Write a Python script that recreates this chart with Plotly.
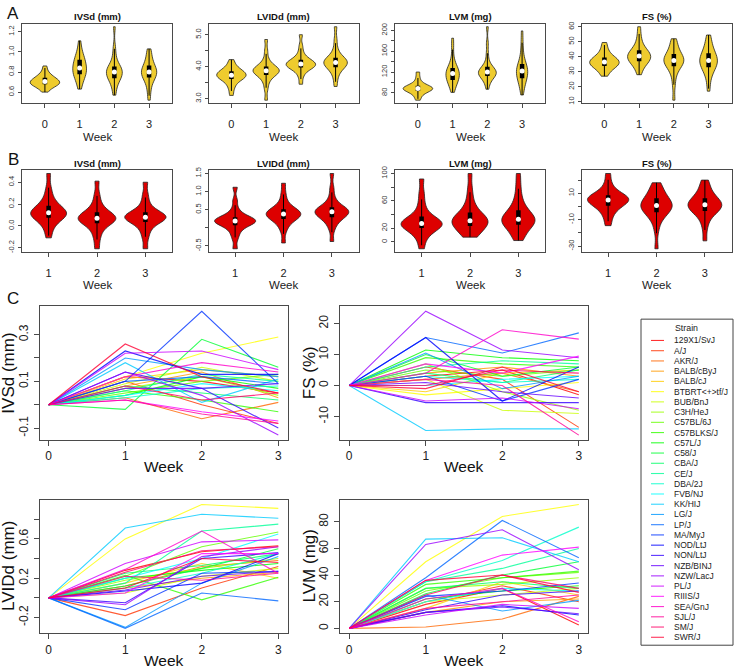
import colorsys
import numpy as np
import plotly.graph_objects as go

# ---------------- DATA ----------------
WEEKS_A = [0, 1, 2, 3]
WEEKS_B = [1, 2, 3]
WEEKS_C = [0, 1, 2, 3]
METRIC_TITLES = ["IVSd (mm)", "LVIDd (mm)", "LVM (mg)", "FS (%)"]

# Panel A: absolute values per week (0..3)
A_IVSD = [
    [0.60, 0.63, 0.65, 0.66, 0.67, 0.68, 0.68, 0.69, 0.69, 0.70, 0.71, 0.71, 0.72, 0.73, 0.74, 0.75, 0.76, 0.78, 0.81, 0.86],
    [0.63, 0.68, 0.72, 0.75, 0.77, 0.78, 0.79, 0.80, 0.82, 0.83, 0.85, 0.86, 0.88, 0.90, 0.92, 0.93, 0.95, 0.98, 1.03, 1.11],
    [0.57, 0.63, 0.68, 0.71, 0.73, 0.74, 0.76, 0.77, 0.78, 0.79, 0.81, 0.82, 0.83, 0.84, 0.85, 0.87, 0.91, 0.97, 1.05, 1.25],
    [0.52, 0.60, 0.66, 0.70, 0.73, 0.75, 0.76, 0.77, 0.79, 0.80, 0.80, 0.81, 0.83, 0.85, 0.86, 0.88, 0.91, 0.95, 0.99, 1.03],
]
A_LVIDD = [
    [3.10, 3.30, 3.42, 3.52, 3.58, 3.62, 3.65, 3.68, 3.70, 3.72, 3.74, 3.76, 3.78, 3.82, 3.85, 3.88, 3.92, 3.98, 4.08, 4.22],
    [2.95, 3.30, 3.50, 3.62, 3.70, 3.75, 3.78, 3.82, 3.85, 3.86, 3.88, 3.90, 3.93, 3.96, 3.99, 4.04, 4.12, 4.25, 4.50, 4.85],
    [3.45, 3.68, 3.82, 3.90, 3.95, 3.98, 4.00, 4.03, 4.05, 4.07, 4.09, 4.11, 4.14, 4.17, 4.20, 4.25, 4.32, 4.45, 4.65, 5.00],
    [3.38, 3.62, 3.78, 3.88, 3.95, 3.99, 4.03, 4.07, 4.10, 4.12, 4.14, 4.17, 4.20, 4.23, 4.27, 4.32, 4.42, 4.58, 4.85, 5.25],
]
A_LVM = [
    [66, 72, 77, 80, 82, 84, 85, 86, 87, 88, 89, 90, 91, 92, 93, 95, 98, 102, 110, 120],
    [81, 90, 96, 100, 103, 105, 108, 111, 114, 116, 118, 120, 122, 125, 127, 131, 137, 148, 168, 185],
    [87, 98, 104, 108, 111, 113, 115, 117, 118, 119, 121, 122, 124, 126, 129, 133, 140, 155, 175, 207],
    [76, 88, 95, 101, 105, 109, 112, 115, 118, 121, 123, 125, 128, 131, 134, 139, 147, 160, 177, 199],
]
A_FS = [
    [27, 29.5, 31, 32.5, 33.5, 34, 34.5, 35, 35.8, 36.3, 36.8, 37.3, 38, 38.6, 39.2, 40.2, 41.5, 43.5, 46, 49.5],
    [28, 31.5, 34, 35.5, 36.5, 37.2, 38, 38.8, 39.5, 40.2, 40.8, 41.5, 42.3, 43, 44, 45.2, 47, 50, 54, 60],
    [11, 21, 27, 30.5, 32.5, 34, 35, 36, 36.8, 37.3, 37.8, 38.5, 39.3, 40.3, 41.5, 42.8, 44.5, 47, 49.5, 52],
    [17, 23.5, 28, 30.5, 32, 33.2, 34.3, 35.5, 36.5, 37.2, 37.8, 38.6, 39.6, 40.8, 42, 43.5, 45.5, 48, 51, 54.5],
]

# Panel B: change from week 0 (weeks 1..3)
B_IVSD = [
    [-0.11, -0.04, 0.01, 0.04, 0.06, 0.08, 0.09, 0.10, 0.11, 0.12, 0.12, 0.13, 0.14, 0.16, 0.18, 0.20, 0.23, 0.28, 0.35, 0.48],
    [-0.21, -0.12, -0.06, -0.02, 0.01, 0.03, 0.04, 0.05, 0.06, 0.07, 0.07, 0.08, 0.09, 0.11, 0.12, 0.14, 0.17, 0.22, 0.29, 0.41],
    [-0.21, -0.11, -0.05, -0.01, 0.02, 0.04, 0.05, 0.06, 0.07, 0.08, 0.08, 0.09, 0.10, 0.11, 0.12, 0.14, 0.17, 0.22, 0.29, 0.40],
]
B_LVIDD = [
    [-0.58, -0.30, -0.15, -0.05, 0.03, 0.08, 0.11, 0.14, 0.16, 0.18, 0.19, 0.21, 0.23, 0.26, 0.28, 0.32, 0.40, 0.52, 0.75, 1.12],
    [-0.42, -0.10, 0.05, 0.15, 0.21, 0.25, 0.29, 0.32, 0.35, 0.37, 0.39, 0.41, 0.44, 0.47, 0.50, 0.55, 0.62, 0.75, 0.95, 1.23],
    [-0.38, -0.05, 0.10, 0.20, 0.26, 0.30, 0.34, 0.38, 0.41, 0.43, 0.45, 0.47, 0.50, 0.53, 0.55, 0.61, 0.70, 0.85, 1.10, 1.50],
]
B_LVM = [
    [-10, 3, 10, 15, 18, 21, 23, 24, 25, 26, 28, 29, 31, 33, 36, 40, 47, 58, 72, 92],
    [7, 10, 14, 18, 21, 24, 26, 28, 29, 30, 32, 34, 36, 39, 42, 46, 53, 63, 78, 100],
    [2, 8, 14, 19, 23, 26, 28, 30, 31, 32, 34, 36, 39, 42, 45, 50, 57, 67, 82, 100],
]
B_FS = [
    [-14.5, -9, -5, -2.5, -0.5, 1, 2, 3, 4, 4.6, 5.3, 6, 6.7, 7.4, 8.2, 9.3, 11, 13.5, 18, 25],
    [-32, -18, -11, -7.5, -5.5, -4, -2.8, -1.5, -0.5, 0.3, 1.2, 2, 3, 4.2, 5.8, 7.5, 9.5, 12, 15, 18],
    [-26, -16, -10, -6.5, -4.5, -3, -2, -1, 0, 0.8, 1.7, 2.5, 3.4, 4.5, 5.8, 7.5, 9.5, 12.5, 16, 20],
]

# Panel C: strain mean change from week 0 (values at weeks 1, 2, 3)
STRAINS = ["129X1/SvJ", "A/J", "AKR/J", "BALB/cByJ", "BALB/cJ", "BTBRT<+>tf/J", "BUB/BnJ",
           "C3H/HeJ", "C57BL/6J", "C57BLKS/J", "C57L/J", "C58/J", "CBA/J", "CE/J", "DBA/2J",
           "FVB/NJ", "KK/HIJ", "LG/J", "LP/J", "MA/MyJ", "NOD/LtJ", "NON/LtJ", "NZB/BINJ",
           "NZW/LacJ", "PL/J", "RIIIS/J", "SEA/GnJ", "SJL/J", "SM/J", "SWR/J"]
C_IVSD = [
    [0.12, 0.10, 0.05], [0.10, 0.00, -0.08], [0.03, -0.06, 0.01], [0.08, 0.14, 0.03],
    [0.11, 0.15, 0.12], [0.12, 0.22, 0.29], [0.09, 0.16, 0.10], [0.07, 0.12, 0.04],
    [0.05, 0.10, 0.13], [0.06, 0.02, -0.03], [0.04, 0.12, 0.07], [-0.02, 0.28, 0.16],
    [0.08, 0.05, 0.02], [0.06, 0.13, 0.10], [0.03, 0.07, 0.08], [0.04, 0.09, 0.06],
    [0.18, 0.01, 0.11], [0.20, 0.15, 0.12], [0.10, 0.12, 0.09], [0.10, 0.40, 0.09],
    [0.23, 0.13, 0.13], [0.14, 0.07, -0.10], [0.07, 0.07, 0.09], [0.14, 0.04, -0.13],
    [0.22, 0.23, 0.15], [0.02, -0.03, -0.07], [0.12, 0.18, 0.14], [0.02, -0.04, -0.08],
    [0.08, 0.02, 0.05], [0.26, 0.12, 0.05],
]
C_FS = [
    [3, 5, -3], [6, 2, -13.5], [2, 4, -2], [4, 6, 3], [-2, 4, 5], [-3, -1, 1],
    [2, -8, -9], [7, -2, -8], [5, 3, 5], [9, 7, 6], [11.5, 9, 8], [10, 3, 6],
    [4, 1, 5], [6, 8, 7], [3, 1, 2], [0, 2, 3], [-14.5, -14, -14], [10.5, -1, 3],
    [15.5, 10.5, 17], [3, -5, 2], [15.5, -5, 6], [-5.5, -5.5, -5.5], [1, -2, -4],
    [24, 11.5, 9], [-5, -4, -7.5], [7, 4, 9.5], [4, 18, 15], [2, 0, -16], [0, 5, 4],
    [-1, 6, -2],
]
C_LVIDD = [
    [0.28, 0.47, 0.53], [-0.18, 0.10, 0.32], [0.12, 0.32, 0.38], [0.10, 0.20, 0.26],
    [0.15, 0.35, 0.20], [0.60, 0.95, 0.91], [0.05, 0.22, 0.30], [0.18, 0.30, 0.40],
    [0.22, 0.52, 0.67], [0.23, -0.02, 0.21], [0.20, 0.28, 0.35], [0.12, 0.30, 0.50],
    [0.25, 0.33, 0.45], [0.15, 0.68, 0.75], [0.10, 0.25, 0.45], [0.20, 0.40, 0.65],
    [0.71, 0.85, 0.81], [-0.30, 0.15, 0.42], [-0.31, 0.05, -0.03], [-0.12, 0.25, 0.27],
    [0.07, 0.15, 0.45], [-0.05, 0.40, 0.46], [0.08, 0.22, 0.27], [-0.07, 0.42, 0.52],
    [0.35, 0.57, 0.59], [0.05, 0.45, 0.45], [0.29, 0.68, 0.25], [0.22, 0.18, 0.25],
    [0.26, 0.48, 0.52], [0.10, 0.40, 0.36],
]
C_LVM = [
    [18, 30, 2.5], [20, 32, 20], [1, 7, 24], [12, 20, 22], [15, 35, 25], [50, 84, 93],
    [20, 25, 30], [30, 33, 38], [28, 38, 42], [33, 38, 43], [22, 28, 32], [26, 40, 50],
    [30, 35, 30], [35, 45, 60], [35, 51, 76], [20, 30, 28], [67, 68, 50], [25, 13, 21],
    [38, 81, 53], [24, 28, 34], [12, 17, 10], [14, 25, 28], [12, 16, 11], [63, 74, 44],
    [10, 18, 15], [36, 55, 61], [22, 30, 5], [15, 20, 25], [25, 40, 30], [36, 40, 27],
]

# ---------------- STYLE / LAYOUT ----------------
W, H = 737, 670
FONT = "Liberation Sans, Arial, Helvetica, sans-serif"
GOLD = "#EECB2E"
RED = "#DD0000"
BOXC = "#4a4a4a"


def rainbow(n, alpha):
    cols = []
    for i in range(n):
        r, g, b = colorsys.hsv_to_rgb(i / n, 1, 1)
        cols.append(f"rgba({int(r*255)},{int(g*255)},{int(b*255)},{alpha})")
    return cols


STRAIN_COLORS = rainbow(len(STRAINS), 0.8)


def xd(l, r):
    return [l / W, r / W]


def yd(t, b):
    return [1 - b / H, 1 - t / H]


def padded(vals, f=0.04):
    lo, hi = min(vals), max(vals)
    d = hi - lo
    return [lo - f * d, hi + f * d]


fig = go.Figure()
layout = {}
annotations = []
shapes = []


def ax_name(n, kind):
    return f"{kind}axis" if n == 1 else f"{kind}axis{n}"


def ref(n, kind):
    return kind if n == 1 else f"{kind}{n}"


COL_LEFT = [22 + 186.5 * k for k in range(4)]
BOX_W = 150

# ---- violin panels (A, B) ----
def violin_panel(n, groups, weeks, left, top, bottom, xrange, fill, yticks, ylabels, title):
    xs, ys = [], []
    for w, g in zip(weeks, groups):
        xs += [w] * len(g)
        ys += list(g)
    fig.add_trace(go.Violin(
        x=xs, y=ys, xaxis=ref(n, "x"), yaxis=ref(n, "y"),
        spanmode="hard", points=False, box_visible=False, meanline_visible=False,
        width=0.85, scalemode="width", fillcolor=fill,
        line=dict(color="#222222", width=0.8), showlegend=False, hoverinfo="skip",
    ))
    wx, wy, bx, by, mx, my = [], [], [], [], [], []
    for w, g in zip(weeks, groups):
        a = np.array(g, dtype=float)
        q1, med, q3 = np.percentile(a, [25, 50, 75])
        iqr = q3 - q1
        lo = max(a.min(), q1 - 1.5 * iqr)
        hi = min(a.max(), q3 + 1.5 * iqr)
        wx += [w, w, None]; wy += [lo, hi, None]
        bx += [w, w, None]; by += [q1, q3, None]
        mx.append(w); my.append(med)
    fig.add_trace(go.Scatter(x=wx, y=wy, mode="lines", line=dict(color="black", width=1),
                             xaxis=ref(n, "x"), yaxis=ref(n, "y"), showlegend=False, hoverinfo="skip"))
    fig.add_trace(go.Scatter(x=bx, y=by, mode="lines", line=dict(color="black", width=4.5),
                             xaxis=ref(n, "x"), yaxis=ref(n, "y"), showlegend=False, hoverinfo="skip"))
    fig.add_trace(go.Scatter(x=mx, y=my, mode="markers", marker=dict(color="white", size=5),
                             xaxis=ref(n, "x"), yaxis=ref(n, "y"), showlegend=False, hoverinfo="skip"))
    allv = [v for g in groups for v in g]
    layout[ax_name(n, "x")] = dict(
        domain=xd(left, left + BOX_W), anchor=ref(n, "y"), range=xrange,
        tickvals=weeks, ticktext=[str(w) for w in weeks], ticks="outside", ticklen=4,
        tickcolor=BOXC, tickfont=dict(size=11, family=FONT, color="#222"),
        ticklabelstandoff=7, showline=True, mirror=True, linecolor=BOXC, linewidth=1,
        showgrid=False, zeroline=False, fixedrange=True,
    )
    layout[ax_name(n, "y")] = dict(
        domain=yd(top, bottom), anchor=ref(n, "x"), range=padded(allv),
        tickvals=yticks, ticktext=ylabels, ticks="outside", ticklen=3, tickcolor=BOXC,
        tickangle=-90, tickfont=dict(size=7.5, family=FONT, color="#333"),
        ticklabelstandoff=1, showline=True, mirror=True, linecolor=BOXC, linewidth=1,
        showgrid=False, zeroline=False, fixedrange=True,
    )
    annotations.append(dict(text=f"<b>{title}</b>", x=(left + BOX_W / 2) / W, y=1 - (top - 7.5) / H,
                            xref="paper", yref="paper", showarrow=False,
                            font=dict(size=9.5, family=FONT, color="#111"), xanchor="center", yanchor="middle"))
    annotations.append(dict(text="Week", x=(left + BOX_W / 2) / W, y=1 - (bottom + 34) / H,
                            xref="paper", yref="paper", showarrow=False,
                            font=dict(size=11.5, family=FONT, color="#222"), xanchor="center", yanchor="middle"))


A_GROUPS = [A_IVSD, A_LVIDD, A_LVM, A_FS]
A_TICKS = [
    ([0.6, 0.8, 1.0, 1.2], ["0.6", "0.8", "1.0", "1.2"]),
    ([3.0, 3.5, 4.0, 4.5, 5.0], ["3.0", "", "4.0", "", "5.0"]),
    ([80, 100, 120, 140, 160, 180, 200], ["80", "", "120", "", "160", "", "200"]),
    ([10, 20, 30, 40, 50, 60], ["10", "20", "30", "40", "50", "60"]),
]
B_GROUPS = [B_IVSD, B_LVIDD, B_LVM, B_FS]
B_TICKS = [
    ([-0.2, 0.0, 0.2, 0.4], ["-0.2", "0.0", "0.2", "0.4"]),
    ([-0.5, 0.0, 0.5, 1.0, 1.5], ["-0.5", "", "0.5", "1.0", "1.5"]),
    ([0, 20, 40, 60, 80, 100], ["0", "20", "", "60", "", "100"]),
    ([-30, -20, -10, 0, 10, 20], ["-30", "", "-10", "", "10", ""]),
]
for k in range(4):
    violin_panel(k + 1, A_GROUPS[k], WEEKS_A, COL_LEFT[k], 20, 100, [-0.66, 3.66], GOLD,
                 A_TICKS[k][0], A_TICKS[k][1], METRIC_TITLES[k])
    violin_panel(k + 5, B_GROUPS[k], WEEKS_B, COL_LEFT[k], 168, 250, [0.45, 3.55], RED,
                 B_TICKS[k][0], B_TICKS[k][1], METRIC_TITLES[k])

# ---- line panels (C) ----
def line_panel(n, data, left, right, top, bottom, yticks, ylabels, ytitle):
    for i, vals in enumerate(data):
        fig.add_trace(go.Scatter(
            x=WEEKS_C, y=[0] + list(vals), mode="lines",
            line=dict(color=STRAIN_COLORS[i], width=1.1),
            xaxis=ref(n, "x"), yaxis=ref(n, "y"), showlegend=False, hoverinfo="skip",
        ))
    allv = [0] + [v for row in data for v in row]
    layout[ax_name(n, "x")] = dict(
        domain=xd(left, right), anchor=ref(n, "y"), range=[-0.12, 3.12],
        tickvals=WEEKS_C, ticktext=[str(w) for w in WEEKS_C], ticks="outside", ticklen=5,
        tickcolor=BOXC, tickfont=dict(size=12, family=FONT, color="#222"), ticklabelstandoff=0,
        showline=True, mirror=True, linecolor=BOXC, linewidth=1,
        showgrid=False, zeroline=False, fixedrange=True,
    )
    layout[ax_name(n, "y")] = dict(
        domain=yd(top, bottom), anchor=ref(n, "x"), range=padded(allv),
        tickvals=yticks, ticktext=ylabels, ticks="outside", ticklen=5, tickcolor=BOXC,
        tickangle=-90, tickfont=dict(size=12, family=FONT, color="#222"), ticklabelstandoff=1,
        showline=True, mirror=True, linecolor=BOXC, linewidth=1,
        showgrid=False, zeroline=False, fixedrange=True,
    )
    annotations.append(dict(text=ytitle, x=(left - 31) / W, y=1 - ((top + bottom) / 2) / H,
                            xref="paper", yref="paper", showarrow=False, textangle=-90,
                            font=dict(size=17, family=FONT, color="#111"), xanchor="center", yanchor="middle"))
    annotations.append(dict(text="Week", x=((left + right) / 2) / W, y=1 - (bottom + 27) / H,
                            xref="paper", yref="paper", showarrow=False,
                            font=dict(size=15.5, family=FONT, color="#111"), xanchor="center", yanchor="middle"))


CL, CR = (39.5, 287.5), (340, 588)
CT, CB = (305, 440), (500, 635)
line_panel(9, C_IVSD, CL[0], CL[1], CT[0], CT[1],
           [-0.1, 0.0, 0.1, 0.2, 0.3], ["-0.1", "", "0.1", "", "0.3"], "IVSd (mm)")
line_panel(10, C_FS, CR[0], CR[1], CT[0], CT[1],
           [-10, 0, 10, 20], ["-10", "0", "10", "20"], "FS (%)")
line_panel(11, C_LVIDD, CL[0], CL[1], CB[0], CB[1],
           [-0.2, 0.0, 0.2, 0.4, 0.6, 0.8], ["-0.2", "", "0.2", "", "0.6", ""], "LVIDd (mm)")
line_panel(12, C_LVM, CR[0], CR[1], CB[0], CB[1],
           [0, 20, 40, 60, 80], ["0", "20", "40", "60", "80"], "LVM (mg)")

# ---- legend (drawn manually for compact spacing) ----
LEG_L, LEG_R, LEG_T, LEG_B = 641, 733, 318, 647
shapes.append(dict(type="rect", xref="paper", yref="paper",
                   x0=LEG_L / W, x1=LEG_R / W, y0=1 - LEG_B / H, y1=1 - LEG_T / H,
                   line=dict(color="#444", width=1), fillcolor="rgba(0,0,0,0)"))
annotations.append(dict(text="Strain", x=686 / W, y=1 - 327 / H, xref="paper", yref="paper",
                        showarrow=False, font=dict(size=8.8, family=FONT, color="#222"),
                        xanchor="center", yanchor="middle"))
step = (639.0 - 339.5) / (len(STRAINS) - 1)
for i, (name, col) in enumerate(zip(STRAINS, STRAIN_COLORS)):
    yy = 339.5 + i * step
    shapes.append(dict(type="line", xref="paper", yref="paper",
                       x0=651 / W, x1=664 / W, y0=1 - yy / H, y1=1 - yy / H,
                       line=dict(color=col, width=1.1)))
    annotations.append(dict(text=name.replace("<", "&lt;").replace(">", "&gt;"),
                            x=671.5 / W, y=1 - yy / H, xref="paper", yref="paper",
                            showarrow=False, font=dict(size=8.5, family=FONT, color="#222"),
                            xanchor="left", yanchor="middle"))

# ---- panel letters ----
for letter, (lx, ly) in zip("ABC", [(13, 10), (13, 157), (13, 297)]):
    annotations.append(dict(text=letter, x=lx / W, y=1 - ly / H, xref="paper", yref="paper",
                            showarrow=False, font=dict(size=17, family=FONT, color="#111"),
                            xanchor="center", yanchor="middle"))

fig.update_layout(
    width=W, height=H, margin=dict(l=0, r=0, t=0, b=0),
    paper_bgcolor="white", plot_bgcolor="white",
    showlegend=False, annotations=annotations, shapes=shapes,
    font=dict(family=FONT),
    **layout,
)
fig.write_html("out.html", config={"displayModeBar": False, "staticPlot": True},
               post_script="document.body.style.margin='0';document.body.style.padding='0';")
